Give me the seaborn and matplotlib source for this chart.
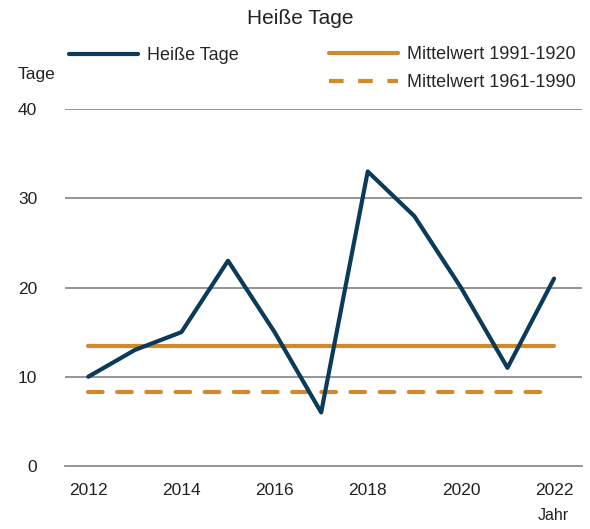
import matplotlib; matplotlib.use("Agg")
import matplotlib.pyplot as plt
import seaborn as sns
import pandas as pd
from matplotlib.lines import Line2D

jahre = [2012, 2013, 2014, 2015, 2016, 2017, 2018, 2019, 2020, 2021, 2022]
heisse_tage = [10, 13, 15, 23, 15, 6, 33, 28, 20, 11, 21]
mittel_1991 = 13.4
mittel_1961 = 8.3
yticks = [0, 10, 20, 30, 40]

NAVY = "#0b3a5a"
ORANGE = "#d0892b"
TXT = "#222222"
DASH = (0, (3.5, 3.5))

sns.set_theme(style="white")
plt.rcParams["font.family"] = ["Liberation Sans", "DejaVu Sans"]

df = pd.DataFrame({"Jahr": jahre, "Tage": heisse_tage})

fig = plt.figure(figsize=(5.9, 5.29), dpi=100)
ax = fig.add_axes([65 / 590, 63 / 529, 517 / 590, 357 / 529])

for y in yticks[1:]:
    ax.axhline(y, color="#8c8c8c", lw=1.3, zorder=1)

sns.lineplot(data=df, x="Jahr", y="Tage", color=NAVY, lw=3, ax=ax, zorder=4)
ax.plot([jahre[0], jahre[-1]], [mittel_1991] * 2, color=ORANGE, lw=3,
        solid_capstyle="round", zorder=3)
ax.plot([jahre[0], jahre[-1]], [mittel_1961] * 2, color=ORANGE, lw=3,
        ls=DASH, dash_capstyle="round", zorder=3)

ax.set_xlim(2011.5, 2022.6)
ax.set_ylim(0, 40)
ax.set_xticks(jahre)
ax.set_xticklabels([str(j) if j % 2 == 0 else "" for j in jahre], fontsize=12.5)
ax.set_yticks(yticks)
ax.set_yticklabels([str(v) for v in yticks], fontsize=12.5)
ax.tick_params(axis="x", length=4, width=1, direction="out", pad=8,
               color="#8c8c8c", labelcolor=TXT)
ax.tick_params(axis="y", length=0, pad=20, labelcolor=TXT)
for s in ["top", "right", "left"]:
    ax.spines[s].set_visible(False)
ax.spines["bottom"].set_color("#8c8c8c")
ax.spines["bottom"].set_linewidth(1.3)
ax.set_xlabel("")
ax.set_ylabel("")

fig.text(37 / 590, 1 - 75 / 529, "Tage", ha="center", va="center", fontsize=12.5, color=TXT)
fig.text(553 / 590, 1 - 515 / 529, "Jahr", ha="center", va="center", fontsize=11.5, color=TXT)
fig.text(300 / 590, 1 - 18 / 529, "Heiße Tage", ha="center", va="center", fontsize=15, color=TXT)

fig.legend([Line2D([], [], color=NAVY, lw=3)], ["Heiße Tage"],
           loc="center left", bbox_to_anchor=(69 / 590, 1 - 56 / 529),
           frameon=False, fontsize=13, handlelength=3.8, handletextpad=0.5,
           borderaxespad=0, borderpad=0)
fig.legend([Line2D([], [], color=ORANGE, lw=3),
            Line2D([], [], color=ORANGE, lw=3, ls=DASH)],
           ["Mittelwert 1991-1920", "Mittelwert 1961-1990"],
           loc="upper left", bbox_to_anchor=(329 / 590, 1 - 46 / 529),
           frameon=False, fontsize=13, handlelength=3.8, handletextpad=0.5,
           labelspacing=0.6, borderaxespad=0, borderpad=0)

fig.savefig("out.png", dpi=100)
